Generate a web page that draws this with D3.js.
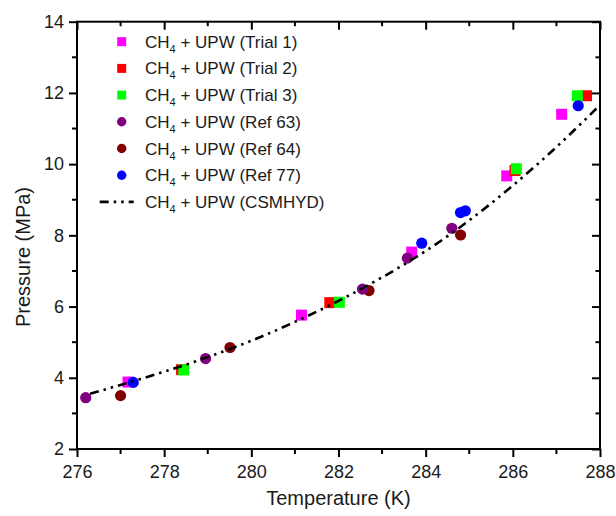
<!DOCTYPE html>
<html>
<head>
<meta charset="utf-8">
<script src="https://cdn.jsdelivr.net/npm/d3@7"></script>
<style>
  html, body { margin: 0; padding: 0; background: #fff; }
  text { font-family: "Liberation Sans", Arial, sans-serif; fill: #1a1a1a; }
</style>
</head>
<body>
<svg id="chart" width="616" height="516"></svg>
<script>
// Hydrate equilibrium data: temperature (K), pressure (MPa)
const trial1T = [277.17, 281.15, 283.68, 285.86, 287.12];
const trial1P = [3.88, 5.76, 7.53, 9.67, 11.40];
const trial2T = [278.40, 281.80, 286.05, 287.69];
const trial2P = [4.23, 6.11, 9.82, 11.92];
const trial3T = [278.45, 282.02, 286.08, 287.48];
const trial3P = [4.22, 6.12, 9.87, 11.92];
const ref63T = [276.20, 278.95, 282.55, 283.58, 284.60];
const ref63P = [3.44, 4.54, 6.49, 7.36, 8.20];
const ref64T = [277.00, 279.51, 282.70, 284.80];
const ref64P = [3.50, 4.85, 6.45, 8.01];
const ref77T = [277.29, 283.91, 284.80, 284.91, 287.50];
const ref77P = [3.87, 7.78, 8.64, 8.69, 11.64];
// CSMHYD prediction curve
const csmT = [276.3, 277, 278, 279, 280, 281, 282, 283, 284, 285, 286, 287, 288];
const csmP = [3.55, 3.80, 4.17, 4.58, 5.04, 5.57, 6.16, 6.82, 7.56, 8.42, 9.40, 10.48, 11.66];

const xTicks = [276, 278, 280, 282, 284, 286, 288];
const yTicks = [2, 4, 6, 8, 10, 12, 14];

const series = [
  { name: "Trial 1", T: trial1T, P: trial1P, shape: "square", color: "#ff00ff" },
  { name: "Trial 2", T: trial2T, P: trial2P, shape: "square", color: "#ff0000" },
  { name: "Trial 3", T: trial3T, P: trial3P, shape: "square", color: "#00ff00" },
  { name: "Ref 63", T: ref63T, P: ref63P, shape: "circle", color: "#800080" },
  { name: "Ref 64", T: ref64T, P: ref64P, shape: "circle", color: "#800000" },
  { name: "Ref 77", T: ref77T, P: ref77P, shape: "circle", color: "#0000ff" }
];
// painting order of the marker groups
const drawOrder = ["Trial 1", "Trial 2", "Trial 3", "Ref 64", "Ref 63", "Ref 77"];

const svg = d3.select("#chart");
const L = 77, R = 600, T = 21.7, B = 449;
const x = d3.scaleLinear().domain([276, 288]).range([L, R]);
const y = d3.scaleLinear().domain([2, 14]).range([B, T]);

const minorX = d3.range(277, 288, 2);
const minorY = d3.range(3, 14, 2);

// frame
svg.append("rect").attr("x", L).attr("y", T).attr("width", R - L).attr("height", B - T)
  .attr("fill", "none").attr("stroke", "#000").attr("stroke-width", 2);

// bottom axis (outward ticks)
const axBottom = svg.append("g").attr("transform", `translate(0,${B})`)
  .call(d3.axisBottom(x).tickValues(xTicks).tickFormat(d3.format("d")).tickSize(8).tickPadding(6));
axBottom.append("g").selectAll("line").data(minorX).join("line")
  .attr("x1", d => x(d)).attr("x2", d => x(d)).attr("y1", 0).attr("y2", 5);

// left axis (outward ticks)
const axLeft = svg.append("g").attr("transform", `translate(${L},0)`)
  .call(d3.axisLeft(y).tickValues(yTicks).tickFormat(d3.format("d")).tickSize(8).tickPadding(5));
axLeft.append("g").selectAll("line").data(minorY).join("line")
  .attr("y1", d => y(d)).attr("y2", d => y(d)).attr("x1", 0).attr("x2", -5);

// top axis (inward ticks, no labels)
const axTop = svg.append("g").attr("transform", `translate(0,${T})`)
  .call(d3.axisBottom(x).tickValues(xTicks).tickFormat("").tickSize(8));
axTop.append("g").selectAll("line").data(minorX).join("line")
  .attr("x1", d => x(d)).attr("x2", d => x(d)).attr("y1", 0).attr("y2", 4.5);

// right axis (inward ticks, no labels)
const axRight = svg.append("g").attr("transform", `translate(${R},0)`)
  .call(d3.axisLeft(y).tickValues(yTicks).tickFormat("").tickSize(8));
axRight.append("g").selectAll("line").data(minorY).join("line")
  .attr("y1", d => y(d)).attr("y2", d => y(d)).attr("x1", 0).attr("x2", -4.5);

[axBottom, axLeft, axTop, axRight].forEach(g => {
  g.select(".domain").remove();
  g.selectAll("line").attr("stroke", "#000").attr("stroke-width", 2);
  g.selectAll("text").style("font-size", "18px").attr("fill", "#1a1a1a");
});
axBottom.selectAll(".tick text").attr("dy", "0.85em");

// axis titles
svg.append("text").attr("x", (L + R) / 2).attr("y", 505).attr("text-anchor", "middle")
  .style("font-size", "20px").text("Temperature (K)");
svg.append("text").attr("transform", "translate(30,257) rotate(-90)").attr("text-anchor", "middle")
  .style("font-size", "20px").text("Pressure (MPa)");

// markers
const sq = 11, rad = 5.6;
const marks = svg.append("g");
drawOrder.forEach(n => {
  const s = series.find(d => d.name === n);
  const pts = s.T.map((t, i) => ({ t, p: s.P[i] }));
  const g = marks.append("g");
  if (s.shape === "square") {
    g.selectAll("rect").data(pts).join("rect")
      .attr("x", d => x(d.t) - sq / 2).attr("y", d => y(d.p) - sq / 2)
      .attr("width", sq).attr("height", sq).attr("fill", s.color);
  } else {
    g.selectAll("circle").data(pts).join("circle")
      .attr("cx", d => x(d.t)).attr("cy", d => y(d.p)).attr("r", rad).attr("fill", s.color);
  }
});

// CSMHYD curve (dash-dot-dot)
const csm = csmT.map((t, i) => ({ t, p: csmP[i] }));
const dashes = "9,5,2.5,5,2.5,5";
svg.append("path").datum(csm)
  .attr("d", d3.line().x(d => x(d.t)).y(d => y(d.p)).curve(d3.curveMonotoneX))
  .attr("fill", "none").attr("stroke", "#000").attr("stroke-width", 2.6)
  .attr("stroke-dasharray", dashes);

// legend
const legend = svg.append("g");
const lx = 121.7, ly0 = 41.7, ldy = 26.7;
const items = series.map(s => ({ ...s })).concat([{ name: "CSMHYD", shape: "line" }]);
items.forEach((s, i) => {
  const cy = ly0 + i * ldy;
  if (s.shape === "square") {
    legend.append("rect").attr("x", lx - 4.5).attr("y", cy - 4.5).attr("width", 9).attr("height", 9).attr("fill", s.color);
  } else if (s.shape === "circle") {
    legend.append("circle").attr("cx", lx).attr("cy", cy).attr("r", 4.7).attr("fill", s.color);
  } else {
    legend.append("line").attr("x1", lx - 22).attr("x2", lx + 12).attr("y1", cy).attr("y2", cy)
      .attr("stroke", "#000").attr("stroke-width", 2.6).attr("stroke-dasharray", dashes);
  }
  const t = legend.append("text").attr("x", 145).attr("y", cy + 6).style("font-size", "17px");
  t.append("tspan").text("CH");
  t.append("tspan").attr("dy", 5).style("font-size", "11px").text("4");
  t.append("tspan").attr("dy", -5).text(` + UPW (${s.name})`);
});
</script>
</body>
</html>
